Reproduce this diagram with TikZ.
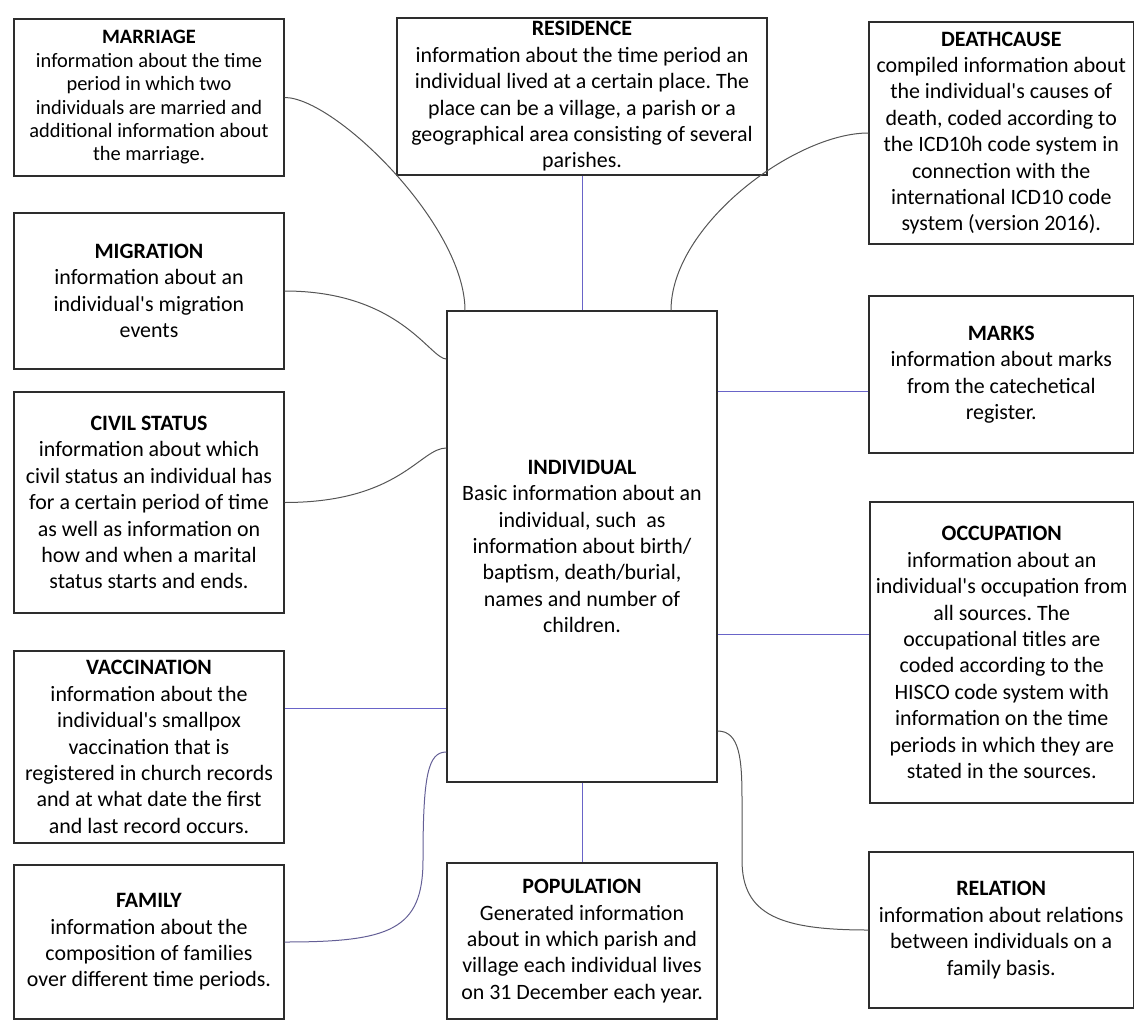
\documentclass[tikz,border=0pt]{standalone}
\usepackage{fontspec}
\setmainfont{Carlito}
\frenchspacing
\newcommand\apos{\textquotesingle}
\definecolor{boxline}{RGB}{45,45,45}
\definecolor{curveline}{RGB}{85,85,85}
\definecolor{straightline}{RGB}{105,100,200}
\definecolor{mixline}{RGB}{100,95,150}
\begin{document}
\begin{tikzpicture}[x=1bp,y=-1bp,
  entity/.style={draw=boxline, line width=1.3bp, align=center, inner sep=0pt,
    font=\fontsize{22}{26.5}\selectfont},
  small entity/.style={entity, font=\fontsize{20.5}{23.5}\selectfont},
  curvelink/.style={draw=curveline, line width=1bp},
  straightlink/.style={draw=straightline, line width=1bp}]
\useasboundingbox (0,0) rectangle (1135,1020);

% central table
\node[entity, minimum width=270bp, minimum height=471bp] (individual) at (582,546.5)
  {\textbf{INDIVIDUAL}\\Basic information about an\\individual, such\ \ as\\information about birth/\\baptism, death/burial,\\names and number of\\children.};

% left column
\node[small entity, minimum width=270bp, minimum height=157bp] (marriage) at (149,97.5)
  {\textbf{MARRIAGE}\\information about the time\\period in which two\\individuals are married and\\additional information about\\the marriage.};
\node[entity, minimum width=270bp, minimum height=156bp] (migration) at (149,291)
  {\textbf{MIGRATION}\\information about an\\individual\apos s migration\\events};
\node[entity, minimum width=270bp, minimum height=221bp] (civil) at (149,502.5)
  {\textbf{CIVIL STATUS}\\information about which\\civil status an individual has\\for a certain period of time\\as well as information on\\how and when a marital\\status starts and ends.};
\node[entity, minimum width=270bp, minimum height=192bp] (vaccination) at (149,747)
  {\textbf{VACCINATION}\\information about the\\individual\apos s smallpox\\vaccination that is\\registered in church records\\and at what date the first\\and last record occurs.};
\node[entity, minimum width=270bp, minimum height=154bp] (family) at (149,942)
  {\textbf{FAMILY}\\information about the\\composition of families\\over different time periods.};

% top and bottom middle
\node[entity, minimum width=370bp, minimum height=157bp] (residence) at (582,96.5)
  {\textbf{RESIDENCE}\\information about the time period an\\individual lived at a certain place. The\\place can be a village, a parish or a\\geographical area consisting of several\\parishes.};
\node[entity, minimum width=270bp, minimum height=156bp] (population) at (582,941)
  {\textbf{POPULATION}\\Generated information\\about in which parish and\\village each individual lives\\on 31 December each year.};

% right column
\node[entity, minimum width=264.5bp, minimum height=222bp] (deathcause) at (1001.25,133)
  {\textbf{DEATHCAUSE}\\compiled information about\\the individual\apos s causes of\\death, coded according to\\the ICD10h code system in\\connection with the\\international ICD10 code\\system (version 2016).};
\node[entity, minimum width=264.5bp, minimum height=157bp] (marks) at (1001.25,374.5)
  {\textbf{MARKS}\\information about marks\\from the catechetical\\register.};
\node[entity, minimum width=263.5bp, minimum height=301bp] (occupation) at (1001.75,652.5)
  {\textbf{OCCUPATION}\\information about an\\individual\apos s occupation from\\all sources. The\\occupational titles are\\coded according to the\\HISCO code system with\\information on the time\\periods in which they are\\stated in the sources.};
\node[entity, minimum width=264.5bp, minimum height=156bp] (relation) at (1001.25,930)
  {\textbf{RELATION}\\information about relations\\between individuals on a\\family basis.};

% straight links
\draw[straightlink] (residence.south) -- (individual.north);
\draw[straightlink] (individual.south) -- (population.north);
\draw[straightlink] (individual.east |- 0,391) -- (marks.west |- 0,391);
\draw[straightlink] (individual.east |- 0,634) -- (occupation.west |- 0,634);
\draw[straightlink] (vaccination.east |- 0,708) -- (individual.west |- 0,708);

% curved links
\draw[curvelink] (marriage.east) .. controls (335,97.5) and (465,225) .. (individual.north -| 465,0);
\draw[curvelink] (deathcause.west) .. controls (795,133) and (671,225) .. (individual.north -| 671,0);
\draw[curvelink] (migration.east) .. controls (400,291) and (430,359) .. (individual.west |- 0,359);
\draw[curvelink] (civil.east) .. controls (400,502.5) and (420,448) .. (individual.west |- 0,448);
\draw[curvelink, draw=mixline] (family.east) .. controls (390,942) and (423,930) .. (423,860)
  .. controls (423,775) and (428,752) .. (individual.west |- 0,752);
\draw[curvelink] (individual.east |- 0,731) .. controls (740,731) and (742,760) .. (742,800)
  -- (742,860) .. controls (742,915) and (780,930) .. (relation.west);
\end{tikzpicture}
\end{document}
